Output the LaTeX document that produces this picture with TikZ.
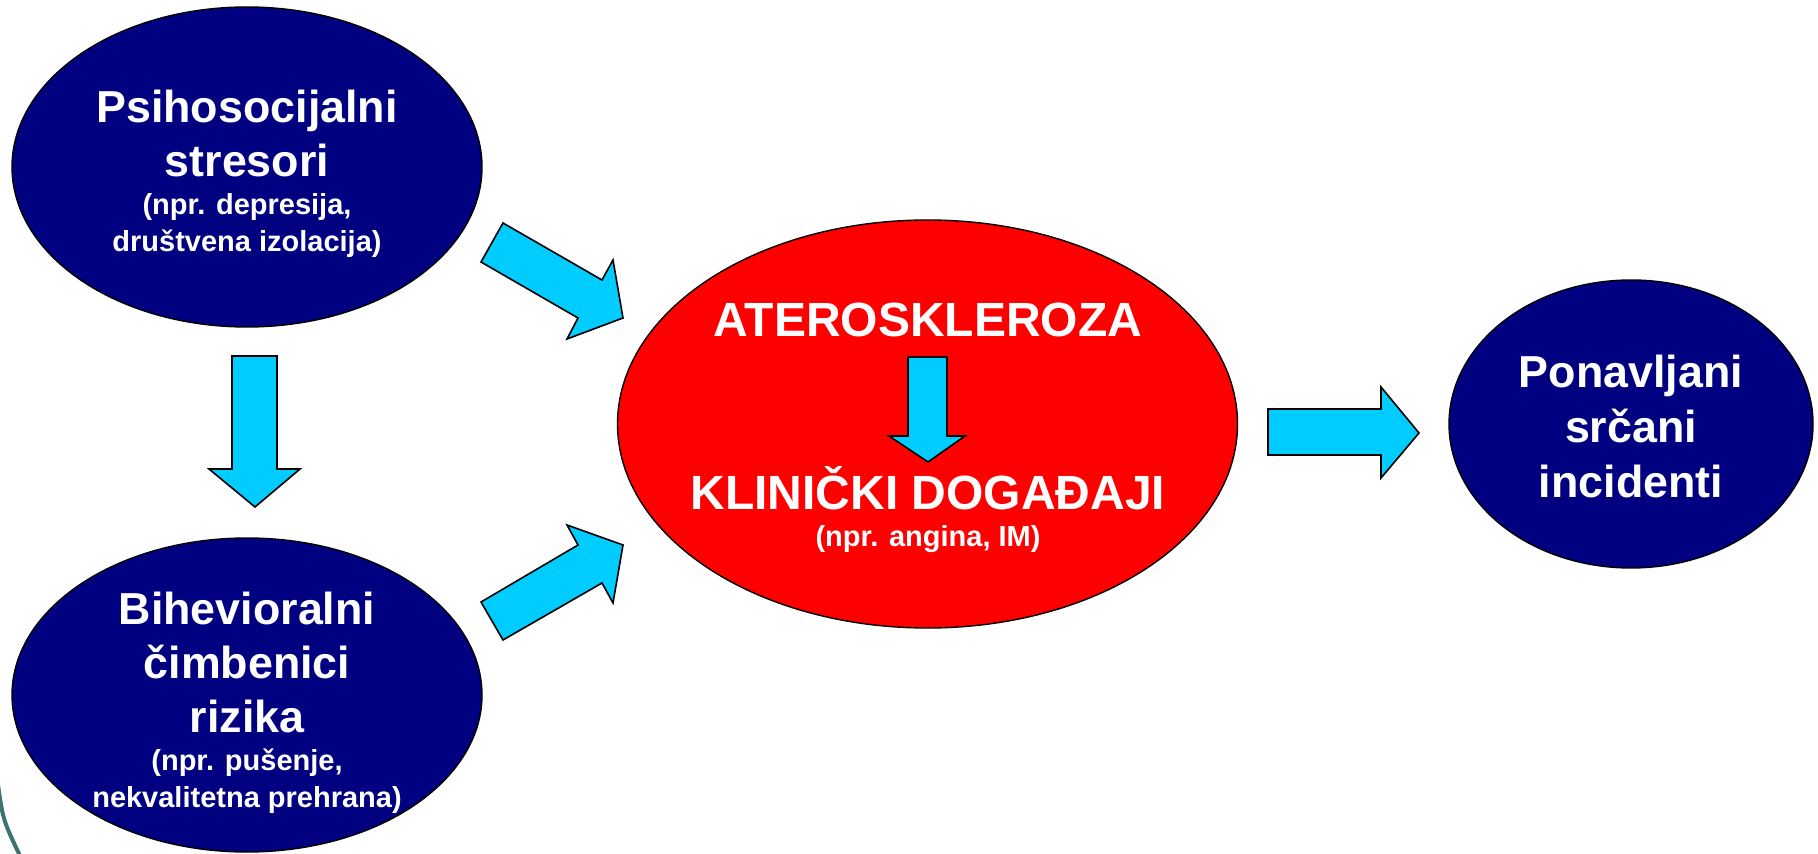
\documentclass[tikz,border=0pt]{standalone}
\usepackage{fontspec}
\setmainfont{Liberation Sans}
\usepackage{tikz}
\usetikzlibrary{shapes.geometric}

\definecolor{tamnoplava}{HTML}{000080}
\definecolor{crvena}{HTML}{FF0000}
\definecolor{cijan}{HTML}{00CCFF}
\definecolor{zelena}{HTML}{3C7272}

\newcommand\mali{\fontsize{14.5}{18.5}\selectfont}

\begin{document}
\begin{tikzpicture}[x=0.5pt, y=-0.5pt,
    elipsa/.style={draw, ellipse, line width=0.7pt, inner sep=0pt},
    veliki/.style={text=white, align=center, inner sep=0pt, font=\fontsize{22.4}{27}\selectfont\bfseries},
    crveni/.style={text=white, anchor=base, inner sep=0pt, font=\bfseries},
    strelica/.style={draw, fill=cijan, line width=0.8pt, line join=miter}]
  \useasboundingbox (0,0) rectangle (1818,854);

  % Rub slajda
  \draw[zelena, line width=2pt] (-2,785) .. controls (3,820) .. (21,858);

  % Psihosocijalni stresori
  \node[elipsa, fill=tamnoplava, minimum width=235pt, minimum height=160pt] (psi) at (247,167) {};
  \node[veliki] (psitxt) at (247,173.5) {Psihosocijalni\\stresori\\[-8pt]{\mali (npr. depresija,}\\[-8.5pt]{\mali društvena izolacija)}};

  % Bihevioralni čimbenici
  \node[elipsa, fill=tamnoplava, minimum width=235pt, minimum height=157pt] (bih) at (247,695) {};
  \node[veliki] (bihtxt) at (247,702.5) {Bihevioralni\\čimbenici\\rizika\\[-8pt]{\mali (npr. pušenje,}\\[-8.5pt]{\mali nekvalitetna prehrana)}};

  % Ateroskleroza
  \node[elipsa, fill=crvena, minimum width=310pt, minimum height=204pt] (ater) at (927.5,424) {};
  \node[crveni] (atertxt) at (928,337) {\fontsize{24}{28}\selectfont ATEROSKLEROZA};
  \node[crveni] (klintxt) at (928,510) {\fontsize{24}{28}\selectfont KLINIČKI DOGAĐAJI};
  \node[crveni] (klinprim) at (928,547) {\mali (npr. angina, IM)};

  % Ponavljani incidenti
  \node[elipsa, fill=tamnoplava, minimum width=182pt, minimum height=144pt] (pon) at (1631,424) {};
  \node[veliki, font=\fontsize{22.4}{27.5}\selectfont\bfseries] (pontxt) at (1631,426) {Ponavljani\\srčani\\incidenti};

  % Strelice
  \draw[strelica] (232,356) -- (277,356) -- (277,469) -- (300,469) -- (255,507) -- (209,469) -- (232,469) -- cycle;
  \draw[strelica] (503,223) -- (602,280) -- (613,260) -- (623,318) -- (567,339) -- (578,318) -- (481,262) -- cycle;
  \draw[strelica] (481,602) -- (578,545) -- (567,525) -- (623,545) -- (613,603) -- (602,583) -- (503,640) -- cycle;
  \draw[strelica] (908,357) -- (947,357) -- (947,436) -- (965,436) -- (928,462) -- (889,436) -- (908,436) -- cycle;
  \draw[strelica] (1268,409) -- (1381,409) -- (1381,387) -- (1419,433) -- (1381,478) -- (1381,455) -- (1268,455) -- cycle;
\end{tikzpicture}
\end{document}
